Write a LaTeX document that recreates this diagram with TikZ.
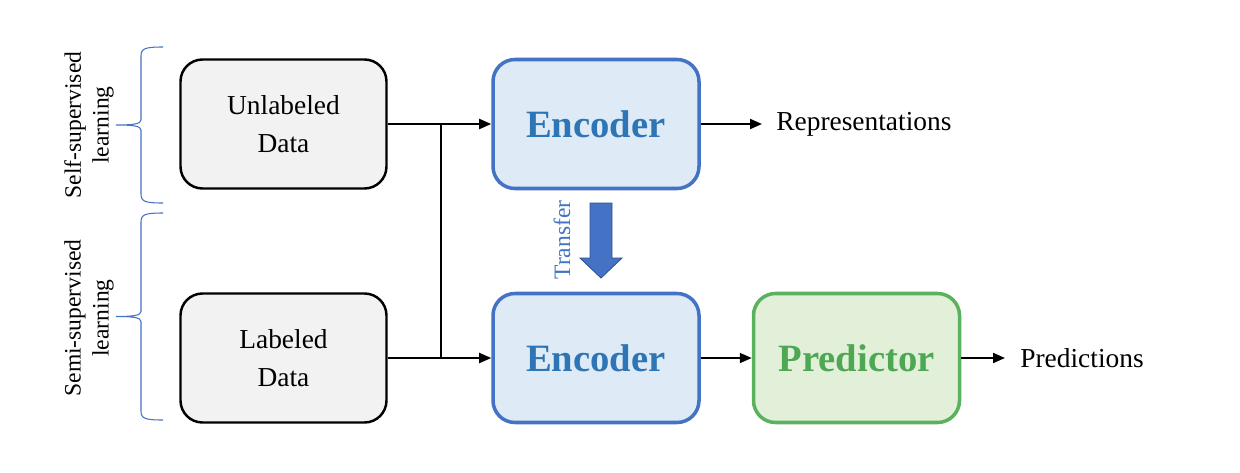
\documentclass[tikz,border=0pt]{standalone}
\usepackage{fontspec}
\setmainfont{Liberation Serif}
\usetikzlibrary{arrows.meta,positioning}
\definecolor{boxgray}{HTML}{F2F2F2}
\definecolor{encfill}{HTML}{DEEBF7}
\definecolor{encline}{HTML}{4472C4}
\definecolor{enctext}{HTML}{2E75B6}
\definecolor{arrowline}{HTML}{2F528F}
\definecolor{predfill}{HTML}{E2F0D9}
\definecolor{predline}{HTML}{5AB25E}
\definecolor{predtext}{HTML}{4EA853}
% brace: x, top y, bottom y
\def\sidebrace(#1:#2:#3){%
	\pgfmathsetmacro\bmid{(#2+#3)/2}
	\draw[draw=encline, line width=0.6pt]
		(#1, #2) .. controls (#1-0.36, #2) and (#1-0.44, #2-0.03) .. (#1-0.44, #2-0.18)
		-- (#1-0.44, \bmid+0.1) .. controls (#1-0.44, \bmid+0.02) and (#1-0.6, \bmid) .. (#1-0.94, \bmid)
		.. controls (#1-0.6, \bmid) and (#1-0.44, \bmid-0.02) .. (#1-0.44, \bmid-0.1)
		-- (#1-0.44, #3+0.18) .. controls (#1-0.44, #3+0.03) and (#1-0.36, #3) .. (#1, #3);}

\tikzset{
  databox/.style={draw=black, line width=1.4pt, fill=boxgray, rounded corners=0.44cm,
    minimum width=4.12cm, minimum height=2.58cm, align=center,
    font=\fontsize{15.6}{21.6}\selectfont},
  encbox/.style={databox, draw=encline, line width=2pt, fill=encfill, text=enctext,
    font=\fontsize{22}{26}\selectfont\bfseries},
  predbox/.style={encbox, draw=predline, fill=predfill, text=predtext},
  flow/.style={line width=1.1pt, -{Triangle[length=0.24cm,width=0.2cm]}},
  outtext/.style={anchor=west, inner sep=0pt, font=\fontsize{15.6}{18}\selectfont},
  sidelabel/.style={rotate=90, align=center, font=\fontsize{13.4}{15.9}\selectfont},
}

\begin{document}
\begin{tikzpicture}
	%%%%% START %%%%%
	\useasboundingbox (0, 0) rectangle (24.8, -9.44);
	
	\node[databox] (unlab) at (5.67, -2.48) {Unlabeled\\Data};
	\node[databox] (lab) at (5.67, -7.16) {Labeled\\Data};
	
	\node[encbox] (enctop) at (11.92, -2.48) {Encoder};
	\node[encbox] (encbot) at (11.92, -7.16) {Encoder};
	\node[predbox] (pred) at (17.13, -7.16) {Predictor};
	
	\node[outtext] (rep) at (15.52, -2.48) {Representations};
	\node[outtext] (preds) at (20.4, -7.16) {Predictions};
	
	\coordinate (split) at (8.82, -2.48);
	\coordinate (join) at (8.82, -7.16);
	
	\draw[flow] (unlab) -- (enctop);
	\draw[line width=1.1pt] (split) -- (join);
	\draw[flow] (lab) -- (encbot);
	\draw[flow] (enctop) -- ([xshift=-0.28cm]rep.west);
	\draw[flow] (encbot) -- (pred);
	\draw[flow] (pred) -- ([xshift=-0.3cm]preds.west);
	
	% transfer
	\draw[fill=encline, draw=arrowline, line width=0.5pt]
		(11.8, -4.06) -- (12.24, -4.06) -- (12.24, -5.16) -- (12.44, -5.16)
		-- (12.02, -5.56) -- (11.6, -5.16) -- (11.8, -5.16) -- cycle;
	\node[sidelabel, text=encline] (transfer) at (11.24, -4.8) {Transfer};
	
	% braces
	\sidebrace(3.26:-0.94:-4.06)
	\sidebrace(3.26:-4.26:-8.4)
	\node[sidelabel] (self) at (1.78, -2.5) {Self-supervised\\learning};
	\node[sidelabel] (semi) at (1.78, -6.36) {Semi-supervised\\learning};
	%%%%% END %%%%%
\end{tikzpicture}
\end{document}
